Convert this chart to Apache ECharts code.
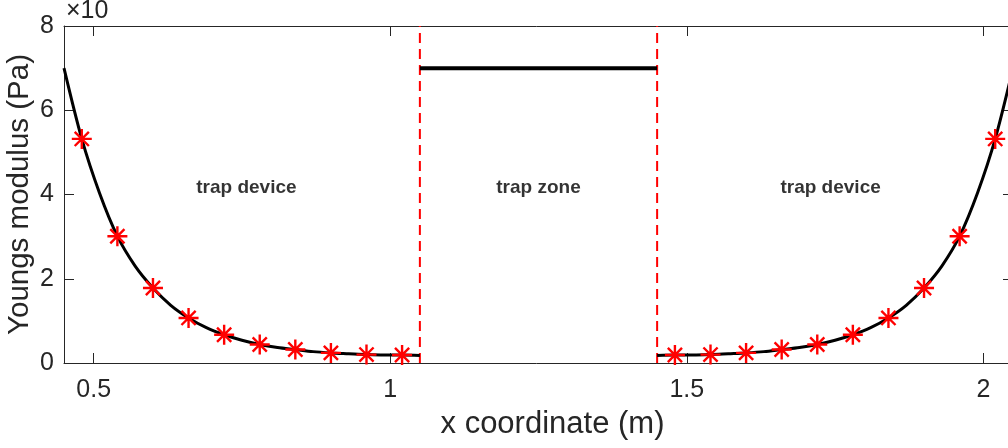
<!DOCTYPE html>
<html>
<head>
<meta charset="utf-8">
<script src="https://cdn.jsdelivr.net/npm/echarts@6/dist/echarts.min.js"></script>
<style>html,body{margin:0;padding:0;background:#fff;}#c{width:1008px;height:448px;}</style>
</head>
<body>
<div id="c"></div>
<script>
// Curve
const leftCurveX = [0.45, 0.48, 0.51, 0.54, 0.57, 0.60, 0.63, 0.66, 0.69, 0.72, 0.75, 0.78, 0.81, 0.84, 0.87, 0.90, 0.93, 0.96, 0.99, 1.02, 1.05];
const leftCurveY = [7.00, 5.32, 4.03, 3.01, 2.30, 1.78, 1.37, 1.07, 0.84, 0.67, 0.54, 0.44, 0.37, 0.32, 0.27, 0.24, 0.22, 0.20, 0.19, 0.19, 0.18];
const rightCurveX = [1.45, 1.48, 1.51, 1.54, 1.57, 1.60, 1.63, 1.66, 1.69, 1.72, 1.75, 1.78, 1.81, 1.84, 1.87, 1.90, 1.93, 1.96, 1.99, 2.02, 2.05];
const rightCurveY = [0.18, 0.19, 0.19, 0.20, 0.22, 0.24, 0.27, 0.32, 0.37, 0.44, 0.54, 0.67, 0.84, 1.07, 1.37, 1.78, 2.30, 3.01, 4.03, 5.32, 7.00];
// Sample markers
const markerX = [0.48, 0.54, 0.60, 0.66, 0.72, 0.78, 0.84, 0.90, 0.96, 1.02, 1.48, 1.54, 1.60, 1.66, 1.72, 1.78, 1.84, 1.90, 1.96, 2.02];
const markerY = [5.32, 3.01, 1.78, 1.07, 0.67, 0.44, 0.32, 0.24, 0.20, 0.19, 0.19, 0.20, 0.24, 0.32, 0.44, 0.67, 1.07, 1.78, 3.01, 5.32];
// Trap zone
const zoneX = [1.05, 1.45];
const zoneY = [7, 7];
const boundaryX = [1.05, 1.45];
// Region labels
const regionLabels = ['trap device', 'trap zone', 'trap device'];
const regionX = [0.7575, 1.25, 1.7425];
const regionY = [4.15, 4.15, 4.15];
// Ticks
const xTicks = [0.5, 1, 1.5, 2];
const xTickLabels = ['0.5', '1', '1.5', '2'];
const yTicks = [0, 2, 4, 6, 8];

const pair = (xs, ys) => xs.map((x, i) => [x, ys[i]]);
const TXT = '#262626';
const FONT = '"Liberation Sans", Arial, Helvetica, sans-serif';
const chart = echarts.init(document.getElementById('c'));
const xCommon = {type: 'value', min: 0.45, max: 2.05, splitLine: {show: false},
  axisLine: {show: true, onZero: false, lineStyle: {color: TXT, width: 1}},
  axisTick: {show: true, inside: true, length: 10, customValues: xTicks, lineStyle: {color: TXT}}};
const yCommon = {type: 'value', min: 0, max: 8, interval: 2, splitLine: {show: false},
  axisLine: {show: true, onZero: false, lineStyle: {color: TXT, width: 1}},
  axisTick: {show: true, inside: true, length: 10, lineStyle: {color: TXT}}};
chart.setOption({
  animation: false,
  backgroundColor: '#fff',
  grid: {left: 64, top: 26, width: 949, height: 337, containLabel: false, outerBoundsMode: 'none'},
  xAxis: [
    Object.assign({}, xCommon, {position: 'bottom',
      name: 'x coordinate (m)', nameLocation: 'middle', nameGap: 46, nameMoveOverlap: false,
      nameTextStyle: {fontSize: 31, color: TXT, fontFamily: FONT, padding: [0, 0, 0, 28]},
      axisLabel: {show: true, customValues: xTicks, margin: 15, fontSize: 25, color: TXT, fontFamily: FONT,
        formatter: v => xTickLabels[xTicks.indexOf(v)]}}),
    Object.assign({}, xCommon, {position: 'top', axisLabel: {show: false}})
  ],
  yAxis: [
    Object.assign({}, yCommon, {position: 'left',
      name: 'Youngs modulus (Pa)', nameLocation: 'middle', nameGap: 29, nameMoveOverlap: false,
      nameTextStyle: {fontSize: 29.5, color: TXT, fontFamily: FONT, padding: [0, 0, 0, 0]},
      axisLabel: {show: true, margin: 10, fontSize: 25, color: TXT, fontFamily: FONT}}),
    Object.assign({}, yCommon, {position: 'right', axisLabel: {show: false}})
  ],
  graphic: [{type: 'text', left: 66, top: -1, style: {text: '×10', fontSize: 25, fill: TXT, fontFamily: FONT}}],
  series: [
    {type: 'line', data: pair([boundaryX[0], boundaryX[0]], [0, 8]), symbol: 'none',
      lineStyle: {color: '#ff0000', width: 2, type: [10, 6]}, z: 3},
    {type: 'line', data: pair([boundaryX[1], boundaryX[1]], [0, 8]), symbol: 'none',
      lineStyle: {color: '#ff0000', width: 2, type: [10, 6]}, z: 3},
    {type: 'line', data: pair(leftCurveX, leftCurveY), symbol: 'none', smooth: 0.3,
      lineStyle: {color: '#000', width: 3}, z: 4},
    {type: 'line', data: pair(rightCurveX, rightCurveY), symbol: 'none', smooth: 0.3,
      lineStyle: {color: '#000', width: 3}, z: 4},
    {type: 'line', data: pair(zoneX, zoneY), symbol: 'none', lineStyle: {color: '#000', width: 4}, z: 4},
    {type: 'scatter', data: pair(markerX, markerY),
      symbol: 'path://M12 0 L12 24 M0 12 L24 12 M3.5 3.5 L20.5 20.5 M3.5 20.5 L20.5 3.5',
      symbolSize: 20, itemStyle: {color: 'none', borderColor: '#ff0000', borderWidth: 2.4, opacity: 1}, z: 5},
    {type: 'scatter', data: regionX.map((x, i) => ({value: [x, regionY[i]], name: regionLabels[i]})),
      symbol: 'circle', symbolSize: 1, itemStyle: {color: 'rgba(0,0,0,0)'}, silent: true,
      label: {show: true, position: 'inside', formatter: p => p.name, fontSize: 19, fontWeight: 'bold', color: '#000', fontFamily: FONT}, z: 6}
  ]
});
</script>
</body>
</html>
